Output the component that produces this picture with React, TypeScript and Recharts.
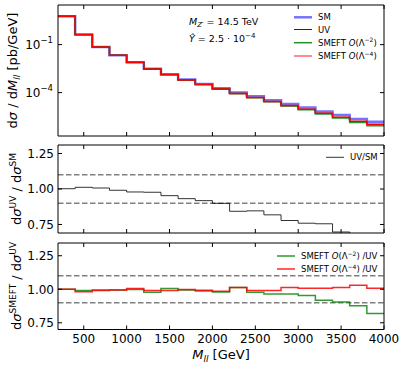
import { ComposedChart, Line, XAxis, YAxis, ReferenceLine } from "recharts";

// bin low edges of the M_ll histogram (200 GeV wide bins)
const binLow = [200, 400, 600, 800, 1000, 1200, 1400, 1600, 1800, 2000, 2200, 2400, 2600, 2800, 3000, 3200, 3400, 3600, 3800];
const lastEdge = 4000;

// dσ/dM_ll [pb/GeV]
const sm = [5.89, 0.423, 0.0712, 0.0217, 7.93e-3, 3.1e-3, 1.41e-3, 6.56e-4, 3.51e-4, 1.9e-4, 1.02e-4, 5.85e-5, 3.4e-5, 1.97e-5, 1.19e-5, 6.7e-6, 4.06e-6, 2.29e-6, 1.51e-6];
const uv = [5.9, 0.428, 0.0717, 0.0215, 7.76e-3, 3.03e-3, 1.34e-3, 6.11e-4, 3.22e-4, 1.71e-4, 8.59e-5, 4.95e-5, 2.78e-5, 1.53e-5, 9.03e-6, 5.06e-6, 2.83e-6, 1.57e-6, 1.03e-6];
const smeft2 = [5.9, 0.424, 0.0713, 0.0214, 7.74e-3, 2.96e-3, 1.35e-3, 6.08e-4, 3.18e-4, 1.68e-4, 8.7e-5, 4.84e-5, 2.68e-5, 1.48e-5, 8.61e-6, 4.65e-6, 2.56e-6, 1.38e-6, 8.45e-7];
const smeft4 = [5.9, 0.42, 0.071, 0.0214, 7.8e-3, 3.0e-3, 1.33e-3, 6.1e-4, 3.2e-4, 1.68e-4, 8.7e-5, 4.9e-5, 2.75e-5, 1.55e-5, 9.1e-6, 5.1e-6, 2.87e-6, 1.62e-6, 1.04e-6];

// ratios
const ratioUvSm = [1.002, 1.012, 1.007, 0.991, 0.979, 0.977, 0.953, 0.932, 0.918, 0.899, 0.843, 0.846, 0.818, 0.778, 0.759, 0.755, 0.697, 0.685, 0.68];
const ratioS2Uv = [1.0, 0.99, 0.995, 0.995, 0.998, 0.978, 1.005, 0.995, 0.988, 0.98, 1.013, 0.978, 0.965, 0.965, 0.953, 0.918, 0.905, 0.878, 0.82];
const ratioS4Uv = [1.0, 0.982, 0.99, 0.995, 1.005, 0.99, 0.99, 0.998, 0.993, 0.985, 1.013, 0.99, 0.99, 1.013, 1.008, 1.008, 1.013, 1.03, 1.008];

const xTicks = [500, 1000, 1500, 2000, 2500, 3000, 3500, 4000];
const logTicks = [1e-4, 1e-1];
const ratioTicks = [0.75, 1.0, 1.25];
const bandLines = [0.9, 1.1];

// stairs: one row per bin low edge, plus the closing edge
function stairs(series: Record<string, number[]>) {
  const rows = binLow.map((m, i) => {
    const row: Record<string, number> = { m };
    Object.keys(series).forEach((k) => (row[k] = series[k][i]));
    return row;
  });
  rows.push({ ...rows[rows.length - 1], m: lastEdge });
  return rows;
}

const topData = stairs({ sm, uv, smeft2, smeft4 });
const midData = stairs({ uvSm: ratioUvSm });
const botData = stairs({ s2: ratioS2Uv, s4: ratioS4Uv });

const W = 407;
const PLOT_L = 58;
const PLOT_R = 384;
const FONT = "DejaVu Sans";
const TL = 4;

const tickBottom = (labels: boolean) => (p: any) => (
  <g>
    <line x1={p.x} x2={p.x} y1={p.y} y2={p.y - TL} stroke="#000" />
    {labels && (
      <text x={p.x} y={p.y + 13} textAnchor="middle" fontFamily={FONT} fontSize={12} fill="#000">
        {p.payload.value}
      </text>
    )}
  </g>
);
const tickTop = (p: any) => <line x1={p.x} x2={p.x} y1={p.y} y2={p.y + TL} stroke="#000" />;
const tickRight = (p: any) => <line x1={p.x} x2={p.x - TL} y1={p.y} y2={p.y} stroke="#000" />;
const tickRatio = (p: any) => (
  <g>
    <line x1={p.x} x2={p.x + TL} y1={p.y} y2={p.y} stroke="#000" />
    <text x={p.x - 4} y={p.y + 4.3} textAnchor="end" fontFamily={FONT} fontSize={12} fill="#000">
      {Number(p.payload.value).toFixed(2)}
    </text>
  </g>
);
const tickLog = (p: any) => {
  const e = Math.round(Math.log10(p.payload.value));
  return (
    <g>
      <line x1={p.x} x2={p.x + TL} y1={p.y} y2={p.y} stroke="#000" />
      <text x={p.x - 5} y={p.y + 4.3} textAnchor="end" fontFamily={FONT} fontSize={12} fill="#000">
        10
        <tspan dy={-5.5} fontSize={8.5}>
          {e < 0 ? "\u2212" + Math.abs(e) : e}
        </tspan>
      </text>
    </g>
  );
};

// bottom/top x axes and left/right y axes take 1px each, margins are reduced to match
function axes(labels: boolean, yScale: "log" | "linear", domain: number[], yTicks: number[]) {
  return [
    <XAxis key="xb" xAxisId="b" dataKey="m" type="number" domain={[200, lastEdge]} ticks={xTicks} interval={0}
      height={1} tickSize={0} tickMargin={0} axisLine={{ stroke: "#000" }} tickLine={false} tick={tickBottom(labels)} />,
    <XAxis key="xt" xAxisId="t" orientation="top" dataKey="m" type="number" domain={[200, lastEdge]} ticks={xTicks}
      interval={0} height={1} tickSize={0} tickMargin={0} axisLine={{ stroke: "#000" }} tickLine={false} tick={tickTop} />,
    <YAxis key="yl" yAxisId="l" scale={yScale} domain={domain} allowDataOverflow ticks={yTicks} interval={0}
      width={PLOT_L} tickSize={0} tickMargin={0} axisLine={{ stroke: "#000" }} tickLine={false}
      tick={yScale === "log" ? tickLog : tickRatio} />,
    <YAxis key="yr" yAxisId="r" orientation="right" scale={yScale} domain={domain} allowDataOverflow ticks={yTicks}
      interval={0} width={1} tickSize={0} tickMargin={0} axisLine={{ stroke: "#000" }} tickLine={false} tick={tickRight} />,
  ];
}

const chartMargin = (top: number, bottom: number) => ({ top: top - 1, bottom: bottom - 1, left: 0, right: W - PLOT_R - 1 });

const stepLine = (key: string, color: string, width: number, opacity = 1) => (
  <Line key={key} xAxisId="b" yAxisId="l" type="stepAfter" dataKey={key} stroke={color} strokeWidth={width}
    strokeOpacity={opacity} dot={false} activeDot={false} isAnimationActive={false} />
);

const bands = bandLines.map((v) => (
  <ReferenceLine key={v} xAxisId="b" yAxisId="l" y={v} stroke="#808080" strokeWidth={1.5} strokeDasharray="5.5 2.5" />
));

const legendRow = (y: number, x0: number, color: string, opacity: number, w: number, label: React.ReactNode) => (
  <g key={y}>
    <line x1={x0} x2={x0 + 18} y1={y} y2={y} stroke={color} strokeOpacity={opacity} strokeWidth={w} />
    <text x={x0 + 24} y={y + 3} fontFamily={FONT} fontSize={8.5} fill="#000">
      {label}
    </text>
  </g>
);

const smeftLabel = (n: number, suffix = "") => (
  <>
    SMEFT <tspan fontStyle="italic">O</tspan>(Λ<tspan dy={-3.5} fontSize={6}>{"\u2212" + n}</tspan>
    <tspan dy={3.5}>){suffix}</tspan>
  </>
);

export default function App() {
  return (
    <div style={{ position: "absolute", left: 0, top: 0, width: W, height: 369, background: "#fff", fontFamily: FONT }}>
      {/* top: differential cross section */}
      <div style={{ position: "absolute", left: 0, top: 0 }}>
        <ComposedChart width={W} height={140} data={topData} margin={chartMargin(5, 4)}>
          {axes(false, "log", [1.95e-7, 30], logTicks)}
          {stepLine("sm", "#0000ff", 2.5, 0.55)}
          {stepLine("uv", "#000000", 1, 0.85)}
          {stepLine("smeft2", "#008000", 1.5, 0.85)}
          {stepLine("smeft4", "#ff0000", 1.5, 1)}
          <text x={17} y={70.5} transform="rotate(-90 17 70.5)" textAnchor="middle" fontFamily={FONT} fontSize={13}>
            d<tspan fontStyle="italic">σ</tspan> / d<tspan fontStyle="italic">M</tspan>
            <tspan fontStyle="italic" fontSize={9} dy={3}>ll</tspan>
            <tspan dy={-3}> [pb/GeV]</tspan>
          </text>
          <text x={189} y={24.5} fontFamily={FONT} fontSize={9.5}>
            <tspan fontStyle="italic">M</tspan>
            <tspan fontStyle="italic" fontSize={7} dy={2.5}>Z′</tspan>
            <tspan dy={-2.5}> = 14.5 TeV</tspan>
          </text>
          <text x={189} y={42} fontFamily={FONT} fontSize={9.5}>
            <tspan fontStyle="italic">Ŷ</tspan> = 2.5 · 10
            <tspan dy={-4} fontSize={7}>−4</tspan>
          </text>
          {legendRow(17.3, 294, "#0000ff", 0.55, 2.5, "SM")}
          {legendRow(29.5, 294, "#000000", 0.85, 1, "UV")}
          {legendRow(42.7, 294, "#008000", 0.85, 1.5, smeftLabel(2))}
          {legendRow(56, 294, "#ff0000", 0.6, 1.5, smeftLabel(4))}
        </ComposedChart>
      </div>

      {/* middle: UV / SM */}
      <div style={{ position: "absolute", left: 0, top: 140 }}>
        <ComposedChart width={W} height={100} data={midData} margin={chartMargin(5, 7)}>
          {axes(false, "linear", [0.69, 1.31], ratioTicks)}
          {bands}
          {stepLine("uvSm", "#000000", 1, 0.8)}
          <text x={21} y={49} transform="rotate(-90 21 49)" textAnchor="middle" fontFamily={FONT} fontSize={13}>
            d<tspan fontStyle="italic">σ</tspan>
            <tspan dy={-5} fontSize={9}>UV</tspan>
            <tspan dy={5}> / d</tspan>
            <tspan fontStyle="italic">σ</tspan>
            <tspan dy={-5} fontSize={9}>SM</tspan>
          </text>
          {legendRow(17.3, 326, "#000000", 0.8, 1, "UV/SM")}
        </ComposedChart>
      </div>

      {/* bottom: SMEFT / UV */}
      <div style={{ position: "absolute", left: 0, top: 238 }}>
        <ComposedChart width={W} height={131} data={botData} margin={chartMargin(5, 39.5)}>
          {axes(true, "linear", [0.7, 1.345], ratioTicks)}
          {bands}
          {stepLine("s2", "#008000", 1.5, 0.8)}
          {stepLine("s4", "#ff0000", 1.5, 0.85)}
          <text x={21} y={48} transform="rotate(-90 21 48)" textAnchor="middle" fontFamily={FONT} fontSize={13}>
            d<tspan fontStyle="italic">σ</tspan>
            <tspan dy={-5} fontSize={9}>SMEFT</tspan>
            <tspan dy={5}> / d</tspan>
            <tspan fontStyle="italic">σ</tspan>
            <tspan dy={-5} fontSize={9}>UV</tspan>
          </text>
          <text x={221} y={121} textAnchor="middle" fontFamily={FONT} fontSize={13}>
            <tspan fontStyle="italic">M</tspan>
            <tspan fontStyle="italic" fontSize={9} dy={3}>ll</tspan>
            <tspan dy={-3}> [GeV]</tspan>
          </text>
          {legendRow(18, 277, "#008000", 0.8, 1.5, smeftLabel(2, " /UV"))}
          {legendRow(31, 277, "#ff0000", 0.85, 1.5, smeftLabel(4, " /UV"))}
        </ComposedChart>
      </div>
    </div>
  );
}
